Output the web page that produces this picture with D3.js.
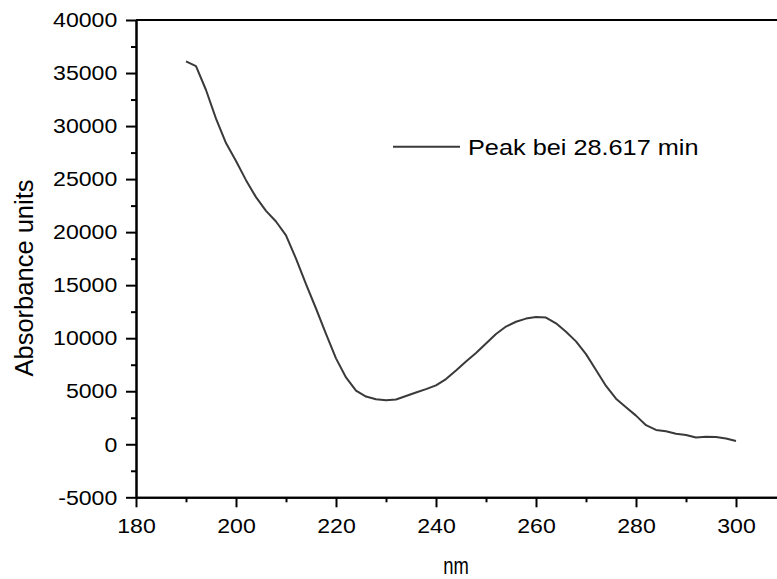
<!DOCTYPE html>
<html>
<head>
<meta charset="utf-8">
<script src="https://cdn.jsdelivr.net/npm/d3@7"></script>
<style>
  body { margin: 0; background: #fff; }
  text { font-family: "Liberation Sans", Arial, sans-serif; fill: #000; }
</style>
</head>
<body>
<div id="chart"></div>
<script>
// wavelength (nm), every 2 nm
var wavelengths = [190,192,194,196,198,200,202,204,206,208,210,212,214,216,218,220,
	222,224,226,228,230,232,234,236,238,240,242,244,246,248,250,252,254,256,258,260,
	262,264,266,268,270,272,274,276,278,280,282,284,286,288,290,292,294,296,298,300];
// absorbance
var absorbance = [36100,35650,33400,30700,28400,26700,24900,23300,22000,21000,19700,17500,15100,12800,10400,8100,
	6300,5050,4500,4250,4150,4220,4550,4880,5200,5550,6150,6950,7800,8600,9500,10400,11100,11550,11850,12000,
	11950,11400,10600,9700,8500,7000,5500,4300,3500,2700,1800,1350,1220,1000,880,630,700,690,540,300];
var xMajor = [180,200,220,240,260,280,300];
var xMinor = [190,210,230,250,270,290];
var yMajor = [-5000,0,5000,10000,15000,20000,25000,30000,35000,40000];
var yMinor = [-2500,2500,7500,12500,17500,22500,27500,32500,37500];
var seriesName = "Peak bei 28.617 min";

var W = 777, H = 579;
var stretch = 1.1; // text in the picture is a bit wide

var svg = d3.select("#chart").append("svg")
	.attr("width", W)
	.attr("height", H);

var x = d3.scaleLinear().domain([180, 310]).range([136, 786]);
var y = d3.scaleLinear().domain([-5000, 40000]).range([497.3, 20]);

var data = wavelengths.map(function(d, i) { return {nm: d, a: absorbance[i]}; });

// frame top / right
svg.append("path")
	.attr("d", "M" + x(180) + "," + y(40000) + "H" + x(310) + "V" + y(-5000))
	.attr("fill", "none")
	.attr("stroke", "#000")
	.attr("stroke-width", 2);

// minor ticks
svg.append("g")
	.attr("class", "axis")
	.attr("transform", "translate(0," + y(-5000) + ")")
	.call(d3.axisBottom(x).tickValues(xMinor).tickSize(5).tickSizeOuter(0).tickFormat(""));
svg.append("g")
	.attr("class", "axis")
	.attr("transform", "translate(" + x(180) + ",0)")
	.call(d3.axisLeft(y).tickValues(yMinor).tickSize(5).tickSizeOuter(0).tickFormat(""));

// x axis
var gx = svg.append("g")
	.attr("class", "axis")
	.attr("transform", "translate(0," + y(-5000) + ")")
	.call(d3.axisBottom(x).tickValues(xMajor).tickSize(10).tickSizeOuter(0).tickPadding(11)
		.tickFormat(function(d) { return String(d); }));

// y axis
var gy = svg.append("g")
	.attr("class", "axis")
	.attr("transform", "translate(" + x(180) + ",0)")
	.call(d3.axisLeft(y).tickValues(yMajor).tickSize(10).tickSizeOuter(0).tickPadding(7)
		.tickFormat(function(d) { return String(d); }));

svg.selectAll(".axis path, .axis line")
	.attr("stroke", "#000")
	.attr("stroke-width", 2);
svg.selectAll(".axis text")
	.attr("font-family", "Liberation Sans, Arial, sans-serif")
	.attr("font-size", 21)
	.attr("fill", "#000")
	.attr("transform", "scale(" + stretch + ",1)");

// line
var line = d3.line()
	.x(function(d) { return x(d.nm); })
	.y(function(d) { return y(d.a); });

svg.append("path")
	.datum(data)
	.attr("d", line)
	.attr("fill", "none")
	.attr("stroke", "#3a3a3a")
	.attr("stroke-width", 2)
	.attr("stroke-linejoin", "round");

// legend
svg.append("line")
	.attr("x1", 393).attr("x2", 460)
	.attr("y1", 146.7).attr("y2", 146.7)
	.attr("stroke", "#3a3a3a")
	.attr("stroke-width", 2);
svg.append("text")
	.attr("transform", "translate(468,155) scale(1.15,1)")
	.attr("font-size", 22)
	.text(seriesName);

// axis titles
svg.append("text")
	.attr("transform", "translate(33,278) rotate(-90)")
	.attr("text-anchor", "middle")
	.attr("font-size", 25.5)
	.text("Absorbance units");

svg.append("text")
	.attr("transform", "translate(456,574) scale(0.8,1)")
	.attr("text-anchor", "middle")
	.attr("font-size", 23)
	.text("nm");
</script>
</body>
</html>
